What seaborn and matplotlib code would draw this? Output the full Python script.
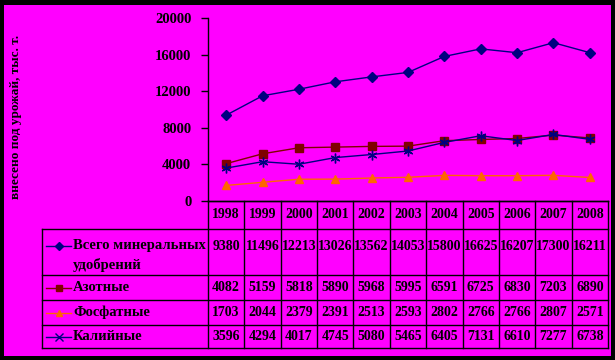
import numpy as np
import pandas as pd
import matplotlib
matplotlib.use("Agg")
import matplotlib.pyplot as plt
from matplotlib.patches import Rectangle
import seaborn as sns

# data
years = [1998, 1999, 2000, 2001, 2002, 2003, 2004, 2005, 2006, 2007, 2008]
total = [9380, 11496, 12213, 13026, 13562, 14053, 15800, 16625, 16207, 17300, 16211]
nitrogen = [4082, 5159, 5818, 5890, 5968, 5995, 6591, 6725, 6830, 7203, 6890]
phosphate = [1703, 2044, 2379, 2391, 2513, 2593, 2802, 2766, 2766, 2807, 2571]
potash = [3596, 4294, 4017, 4745, 5080, 5465, 6405, 7131, 6610, 7277, 6738]
names = ["Всего минеральных\nудобрений", "Азотные", "Фосфатные", "Калийные"]
y_label = "внесено под урожай, тыс. т."
y_ticks = [0, 4000, 8000, 12000, 16000, 20000]

series = [total, nitrogen, phosphate, potash]
colors = ["#000080", "#800000", "#FF6600", "#000080"]
markers = ["D", "s", "^", (6, 2, 0)]
msizes = [5, 6, 6, 7]

df = pd.DataFrame({"year": years * 4,
                   "value": total + nitrogen + phosphate + potash,
                   "name": sum([[n] * len(years) for n in names], [])})

plt.rcParams["font.family"] = ["Liberation Serif", "DejaVu Serif"]
plt.rcParams["font.weight"] = "bold"

W, H = 615, 360
fig = plt.figure(figsize=(W / 100, H / 100), dpi=100, facecolor="black")
fig.patches.append(Rectangle((3.5 / W, 1 - 356 / H), (611 - 3.5) / W, (356 - 5) / H,
                             transform=fig.transFigure, facecolor="#FF00FF",
                             edgecolor="none", zorder=-5))

# main plot area
ax = fig.add_axes([208 / W, 1 - 201 / H, 400 / W, 183 / H])
ax.set_facecolor("none")
for i, n in enumerate(names):
    sns.lineplot(data=df[df["name"] == n], x="year", y="value", ax=ax,
                 color=colors[i], marker=markers[i], markersize=msizes[i],
                 markeredgecolor=colors[i], markeredgewidth=1, lw=1)
ax.set_xlim(years[0] - 0.5, years[-1] + 0.5)
ax.set_ylim(0, 20000)
ax.set_yticks(y_ticks)
ax.set_yticklabels([str(t) for t in y_ticks], fontsize=10.5, fontweight="bold")
ax.set_xticks([])
ax.tick_params(axis="y", length=5, width=1, color="black", pad=7)
ax.spines["top"].set_visible(False)
ax.spines["right"].set_visible(False)
for s in ["left", "bottom"]:
    ax.spines[s].set_color("black")
    ax.spines[s].set_linewidth(1)
ax.set_xlabel("")
ax.set_ylabel("")
fig.text(16 / W, 1 - 117 / H, y_label, rotation=90, ha="center", va="center",
         fontsize=9.5, fontweight="bold", color="black")

# data table underneath
unit = 400 / len(years)
x0 = years[0] - 0.5 - (208 - 42) / unit
tab = fig.add_axes([42 / W, 1 - 348 / H, 566 / W, 147 / H])
tab.set_xlim(x0, years[-1] + 0.5)
tab.set_ylim(348, 201)
tab.axis("off")

def px(p):
    return x0 + (p - 42) / unit

rows = [201, 229, 275, 300, 325, 348]
lk = dict(color="black", lw=1, clip_on=False)
tab.plot([years[0] - 0.5, years[-1] + 0.5], [rows[0], rows[0]], **lk)
for r in rows[1:]:
    tab.plot([x0, years[-1] + 0.5], [r, r], **lk)
tab.plot([x0, x0], [rows[1], rows[-1]], **lk)
for k in range(len(years) + 1):
    xv = years[0] - 0.5 + k
    tab.plot([xv, xv], [rows[0], rows[-1]], **lk)

tk = dict(fontsize=10, fontweight="bold", color="black", va="center")
for y in years:
    tab.text(y, 215, str(y), ha="center", **tk)

row_y = [246, 287.5, 312.5, 336.5]
leg_marks = ["D", "s", "^", "x"]
for i, vals in enumerate(series):
    for y, v in zip(years, vals):
        tab.text(y, row_y[i], str(v), ha="center", **tk)
    tab.plot([px(46), px(71)], [row_y[i], row_y[i]], color=colors[i], lw=1, clip_on=False)
    tab.plot([px(58.5)], [row_y[i]], marker=leg_marks[i], markersize=msizes[i] - 1,
             color=colors[i], markeredgecolor=colors[i], clip_on=False)
    lab = names[i].split("\n")
    tab.text(px(73), row_y[i], lab[0], ha="left", fontsize=10.5, fontweight="bold",
             color="black", va="center")
    if len(lab) > 1:
        tab.text(px(73), row_y[i] + 19, lab[1], ha="left", fontsize=10.5,
                 fontweight="bold", color="black", va="center")

fig.savefig("out.png", dpi=100, facecolor=fig.get_facecolor())
